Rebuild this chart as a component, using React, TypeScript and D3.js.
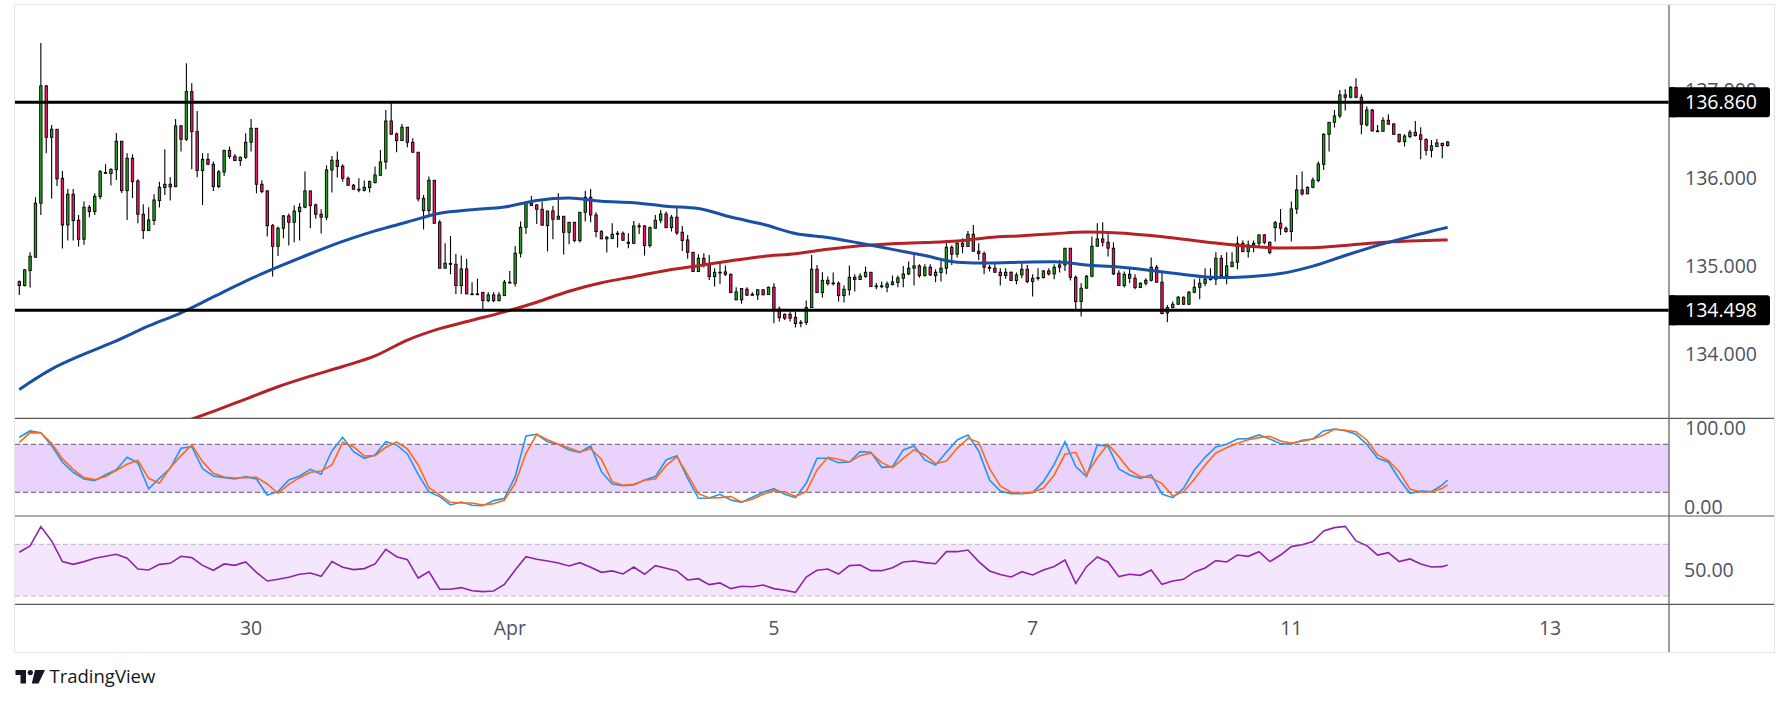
import * as d3 from 'd3';

// hourly candles, [open, high, low, close]
const ohlc: [number, number, number, number][] = [
  [134.824, 134.835, 134.673, 134.779], [134.779, 134.964, 134.767, 134.957], [134.949, 135.157, 134.756, 135.112],
  [135.101, 135.782, 135.097, 135.714], [135.714, 137.534, 135.581, 137.046], [137.046, 137.057, 136.281, 136.463],
  [136.463, 136.603, 135.767, 136.554], [136.554, 136.554, 135.910, 135.990], [135.997, 136.081, 135.199, 135.467],
  [135.467, 135.876, 135.290, 135.816], [135.816, 135.876, 135.290, 135.517], [135.521, 135.581, 135.222, 135.305],
  [135.305, 135.733, 135.241, 135.668], [135.668, 135.695, 135.555, 135.619], [135.619, 135.827, 135.581, 135.793],
  [135.790, 136.092, 135.759, 136.073], [136.062, 136.156, 136.050, 136.060], [136.050, 136.111, 135.914, 136.099],
  [136.095, 136.512, 135.978, 136.418], [136.418, 136.418, 135.831, 135.857], [135.857, 136.281, 135.524, 136.225],
  [136.225, 136.270, 135.774, 135.959], [135.967, 135.986, 135.486, 135.589], [135.589, 135.702, 135.309, 135.403],
  [135.403, 135.668, 135.399, 135.524], [135.517, 135.816, 135.467, 135.751], [135.744, 135.959, 135.664, 135.895],
  [135.891, 136.327, 135.808, 135.929], [135.929, 136.009, 135.744, 135.899], [135.903, 136.671, 135.895, 136.592],
  [136.592, 136.603, 136.300, 136.440], [136.440, 137.303, 136.421, 136.981], [136.981, 137.076, 136.100, 136.527],
  [136.527, 136.762, 136.009, 136.085], [136.085, 136.281, 135.695, 136.213], [136.213, 136.281, 136.149, 136.156],
  [136.156, 136.187, 135.854, 135.903], [135.903, 136.092, 135.884, 136.069], [136.069, 136.315, 136.024, 136.315],
  [136.315, 136.357, 136.217, 136.244], [136.247, 136.270, 136.195, 136.198], [136.198, 136.244, 136.138, 136.236],
  [136.236, 136.508, 136.217, 136.406], [136.406, 136.671, 136.300, 136.565], [136.565, 136.565, 135.827, 135.929],
  [135.929, 135.975, 135.827, 135.846], [135.854, 135.861, 135.335, 135.460], [135.460, 135.479, 134.881, 135.225],
  [135.225, 135.449, 135.116, 135.430], [135.430, 135.581, 135.316, 135.570], [135.570, 135.596, 135.233, 135.498],
  [135.498, 135.687, 135.271, 135.626], [135.619, 135.714, 135.290, 135.668], [135.668, 136.073, 135.657, 135.854],
  [135.854, 135.854, 135.430, 135.687], [135.695, 135.710, 135.539, 135.589], [135.589, 135.645, 135.369, 135.555],
  [135.555, 136.141, 135.521, 136.092], [136.092, 136.251, 135.835, 136.202], [136.202, 136.300, 136.005, 136.130],
  [136.134, 136.156, 135.959, 135.997], [135.997, 136.016, 135.914, 135.918], [135.918, 135.933, 135.873, 135.873],
  [135.873, 135.997, 135.838, 135.865], [135.861, 135.971, 135.846, 135.895], [135.891, 135.971, 135.835, 135.959],
  [135.948, 136.130, 135.937, 136.035], [136.031, 136.319, 136.031, 136.183], [136.183, 136.773, 136.100, 136.648],
  [136.648, 136.849, 136.497, 136.497], [136.501, 136.516, 136.293, 136.425], [136.425, 136.614, 136.425, 136.577],
  [136.577, 136.577, 136.349, 136.406], [136.406, 136.452, 136.293, 136.293], [136.293, 136.293, 135.733, 135.763],
  [135.630, 135.808, 135.415, 135.770], [135.630, 136.016, 135.581, 135.975], [135.975, 135.975, 135.486, 135.486],
  [135.498, 135.524, 134.976, 134.976], [134.976, 135.259, 134.976, 135.032], [135.025, 135.343, 134.907, 135.029],
  [135.021, 135.138, 134.684, 134.779], [134.779, 135.119, 134.684, 134.968], [134.968, 135.082, 134.684, 134.684],
  [134.684, 134.817, 134.673, 134.680], [134.680, 134.855, 134.673, 134.684], [134.703, 134.703, 134.514, 134.608],
  [134.608, 134.703, 134.589, 134.673], [134.673, 134.703, 134.589, 134.608], [134.608, 134.703, 134.597, 134.673],
  [134.665, 134.843, 134.665, 134.817], [134.809, 134.945, 134.801, 134.817], [134.805, 135.229, 134.767, 135.146],
  [135.146, 135.505, 135.097, 135.441], [135.441, 135.740, 135.365, 135.714], [135.714, 135.797, 135.683, 135.687],
  [135.695, 135.702, 135.479, 135.645], [135.645, 135.733, 135.464, 135.464], [135.460, 135.626, 135.165, 135.626],
  [135.626, 135.683, 135.305, 135.532], [135.532, 135.827, 135.532, 135.566], [135.566, 135.566, 135.131, 135.384],
  [135.384, 135.498, 135.248, 135.498], [135.498, 135.498, 135.271, 135.290], [135.290, 135.611, 135.267, 135.611],
  [135.611, 135.857, 135.505, 135.782], [135.782, 135.876, 135.498, 135.581], [135.581, 135.611, 135.328, 135.392],
  [135.392, 135.411, 135.309, 135.309], [135.309, 135.343, 135.153, 135.328], [135.312, 135.486, 135.309, 135.362],
  [135.362, 135.399, 135.210, 135.373], [135.373, 135.392, 135.290, 135.293], [135.271, 135.373, 135.203, 135.259],
  [135.259, 135.513, 135.252, 135.456], [135.456, 135.486, 135.365, 135.449], [135.456, 135.467, 135.119, 135.233],
  [135.233, 135.449, 135.210, 135.437], [135.430, 135.581, 135.430, 135.521], [135.521, 135.638, 135.486, 135.592],
  [135.592, 135.619, 135.430, 135.437], [135.437, 135.581, 135.392, 135.555], [135.555, 135.679, 135.354, 135.377],
  [135.384, 135.456, 135.172, 135.290], [135.297, 135.354, 135.082, 135.157], [135.157, 135.157, 134.938, 134.938],
  [134.938, 135.135, 134.938, 135.089], [135.089, 135.146, 134.983, 135.013], [135.021, 135.127, 134.843, 134.881],
  [134.881, 134.976, 134.767, 134.930], [134.930, 135.059, 134.798, 134.927], [134.934, 135.006, 134.888, 134.907],
  [134.907, 134.915, 134.699, 134.699], [134.616, 134.760, 134.616, 134.707], [134.616, 134.749, 134.571, 134.745],
  [134.737, 134.760, 134.665, 134.669], [134.669, 134.703, 134.665, 134.680], [134.673, 134.741, 134.616, 134.730],
  [134.730, 134.741, 134.673, 134.673], [134.677, 134.767, 134.673, 134.760], [134.760, 134.805, 134.351, 134.510],
  [134.514, 134.540, 134.370, 134.415], [134.453, 134.461, 134.389, 134.408], [134.453, 134.483, 134.370, 134.408],
  [134.419, 134.483, 134.302, 134.347], [134.351, 134.389, 134.306, 134.362], [134.359, 134.608, 134.332, 134.529],
  [134.529, 135.127, 134.529, 134.964], [134.964, 135.013, 134.699, 134.699], [134.699, 134.930, 134.642, 134.839],
  [134.839, 134.881, 134.779, 134.801], [134.801, 134.926, 134.779, 134.809], [134.805, 134.824, 134.597, 134.665],
  [134.665, 134.779, 134.586, 134.737], [134.730, 135.006, 134.665, 134.873], [134.873, 134.907, 134.711, 134.847],
  [134.847, 134.919, 134.843, 134.888], [134.881, 134.994, 134.869, 134.930], [134.930, 134.930, 134.767, 134.767],
  [134.767, 134.809, 134.737, 134.775], [134.775, 134.824, 134.749, 134.767], [134.760, 134.824, 134.703, 134.798],
  [134.790, 134.892, 134.779, 134.820], [134.813, 134.892, 134.760, 134.866], [134.862, 135.002, 134.760, 134.911],
  [134.911, 135.051, 134.900, 134.976], [134.976, 135.146, 134.779, 135.002], [135.002, 135.021, 134.869, 134.892],
  [134.892, 135.021, 134.881, 134.987], [134.987, 135.021, 134.888, 134.900], [134.892, 134.964, 134.817, 134.930],
  [134.926, 135.059, 134.824, 134.976], [134.976, 135.290, 134.907, 135.214], [135.214, 135.233, 135.013, 135.135],
  [135.135, 135.286, 135.097, 135.259], [135.259, 135.316, 135.146, 135.222], [135.222, 135.399, 135.222, 135.362],
  [135.362, 135.467, 135.169, 135.169], [135.169, 135.259, 135.070, 135.142], [135.142, 135.165, 134.907, 134.987],
  [134.987, 135.013, 134.938, 134.976], [134.976, 135.040, 134.926, 134.930], [134.930, 134.976, 134.779, 134.892],
  [134.892, 134.976, 134.855, 134.930], [134.930, 134.938, 134.836, 134.836], [134.836, 134.926, 134.794, 134.900],
  [134.900, 135.032, 134.862, 134.964], [134.964, 135.013, 134.805, 134.824], [134.824, 134.907, 134.654, 134.862],
  [134.862, 134.976, 134.836, 134.869], [134.869, 134.957, 134.862, 134.945], [134.945, 134.976, 134.892, 134.911],
  [134.911, 135.021, 134.851, 134.987], [134.987, 135.070, 134.926, 135.013], [135.013, 135.203, 134.945, 135.203],
  [135.203, 135.203, 134.836, 134.873], [134.873, 134.892, 134.514, 134.597], [134.597, 134.805, 134.427, 134.749],
  [134.749, 134.900, 134.749, 134.885], [134.885, 135.335, 134.873, 135.225], [135.225, 135.486, 135.225, 135.309],
  [135.309, 135.498, 135.222, 135.271], [135.271, 135.362, 135.108, 135.203], [135.203, 135.271, 134.900, 134.911],
  [134.919, 134.953, 134.779, 134.779], [134.779, 134.938, 134.756, 134.907], [134.907, 134.976, 134.805, 134.862],
  [134.862, 134.907, 134.737, 134.756], [134.756, 134.817, 134.756, 134.805], [134.805, 134.862, 134.779, 134.839],
  [134.839, 135.097, 134.824, 134.987], [134.987, 135.013, 134.817, 134.817], [134.817, 134.926, 134.453, 134.461],
  [134.468, 134.559, 134.362, 134.529], [134.529, 134.597, 134.521, 134.567], [134.567, 134.661, 134.559, 134.646],
  [134.646, 134.654, 134.559, 134.567], [134.567, 134.718, 134.559, 134.703], [134.703, 134.851, 134.692, 134.760],
  [134.760, 134.862, 134.624, 134.805], [134.805, 134.976, 134.775, 134.851], [134.851, 134.976, 134.836, 134.855],
  [134.851, 135.157, 134.786, 135.089], [135.089, 135.127, 134.873, 134.892], [134.892, 135.157, 134.794, 135.002],
  [134.994, 135.157, 134.987, 135.044], [135.044, 135.335, 134.964, 135.259], [135.259, 135.290, 135.157, 135.165],
  [135.165, 135.290, 135.097, 135.241], [135.241, 135.290, 135.157, 135.259], [135.259, 135.362, 135.214, 135.354],
  [135.354, 135.362, 135.248, 135.271], [135.271, 135.278, 135.135, 135.153], [135.437, 135.513, 135.278, 135.494],
  [135.486, 135.649, 135.354, 135.430], [135.430, 135.449, 135.380, 135.392], [135.392, 135.733, 135.278, 135.649],
  [135.649, 136.035, 135.592, 135.865], [135.865, 136.073, 135.801, 135.820], [135.820, 135.903, 135.820, 135.895],
  [135.895, 136.005, 135.884, 135.978], [135.971, 136.187, 135.952, 136.160], [136.156, 136.508, 136.092, 136.497],
  [136.497, 136.633, 136.300, 136.633], [136.633, 136.773, 136.573, 136.705], [136.705, 137.000, 136.679, 136.944],
  [136.944, 137.008, 136.766, 136.917], [136.917, 137.046, 136.906, 137.031], [137.031, 137.133, 136.906, 136.917],
  [136.917, 136.951, 136.497, 136.611], [136.603, 136.811, 136.584, 136.773], [136.773, 136.785, 136.527, 136.535],
  [136.535, 136.603, 136.527, 136.531], [136.531, 136.690, 136.527, 136.656], [136.656, 136.724, 136.611, 136.611],
  [136.614, 136.622, 136.490, 136.497], [136.497, 136.501, 136.402, 136.414], [136.414, 136.497, 136.357, 136.478],
  [136.471, 136.546, 136.452, 136.520], [136.520, 136.648, 136.471, 136.482], [136.490, 136.577, 136.213, 136.437],
  [136.437, 136.452, 136.255, 136.315], [136.315, 136.433, 136.232, 136.365], [136.357, 136.444, 136.353, 136.399],
  [136.395, 136.399, 136.225, 136.368], [136.368, 136.421, 136.357, 136.410],
];

// moving averages, read every 6th candle (last point = last candle)
const maStep = 6;
const blueMA = [
  133.6, 133.83, 134.0, 134.15, 134.32, 134.47, 134.65, 134.83, 134.99, 135.14, 135.28, 135.4, 135.5, 135.6, 135.64,
  135.67, 135.745, 135.772, 135.735, 135.72, 135.68, 135.655, 135.557, 135.475, 135.37, 135.325, 135.26, 135.19, 135.12,
  135.045, 135.035, 135.045, 135.05, 135.013, 134.99, 134.95, 134.905, 134.87, 134.88, 134.915, 135.0, 135.12, 135.235,
  135.335, 135.425, 135.44,
];
const redStart = 30; // enters the pane from below here
const redMA = [
  133.22, 133.35, 133.49, 133.63, 133.75, 133.86, 133.98, 134.16, 134.29, 134.385, 134.48, 134.59, 134.715, 134.81,
  134.88, 134.95, 135.005, 135.06, 135.11, 135.14, 135.19, 135.23, 135.255, 135.268, 135.285, 135.325, 135.345,
  135.368, 135.386, 135.377, 135.347, 135.305, 135.262, 135.226, 135.205, 135.208, 135.235, 135.265, 135.285, 135.296,
  135.297,
];

// oscillators, read every 2nd candle (last point = last candle)
const oscStep = 2;
const stochK = [
  88.75, 96.7, 94.6, 78.3, 57.5, 45, 36.7, 34.6, 42, 48.3, 63.75, 56.7, 24.2, 37.5, 50, 75, 77, 49.6, 40.4, 38.3, 36.7,
  39.6, 36.7, 16.7, 20.8, 35.4, 40.4, 48.75, 42.5, 71.7, 88.75, 70.8, 62.5, 66.7, 83.3, 79.2, 67.9, 42.5, 20.4, 14.6,
  4.2, 7.9, 3.75, 3.3,
  9.6, 12.5, 39.6, 90.4, 92.5, 83.3, 80, 72.9, 70, 77.9, 45.8, 30.4, 28.3, 29.2, 35.4, 39.6, 60.4, 65.8, 37.5, 12.5,
  12.9, 17.5, 10.4, 7.5, 13.75, 20, 24.6, 17.5, 13.3, 31.25, 62.5, 62.5, 57.1, 57.9, 70.8, 70, 51.25, 52.1, 72.9, 77.9,
  60.4, 54.2, 70, 85.4, 91.7,
  71.7, 35.4, 21.7, 18.3, 18.3, 19.6, 33.3, 55, 83.3, 52.1, 39.6, 79.2, 77.5, 49.2, 41.7, 37.5, 41.7, 17.9, 13.3, 25,
  47.9, 63.75, 76.7, 80, 86.7, 87.1, 91.7, 86.7, 80.8, 80.4, 85, 86.7, 96.7, 99.2, 97.1, 92.5, 80, 62.5, 57.9, 36.7,
  18.75, 21.7, 20.8, 29.2, 35.4,
];
const stochD = [
  82.5, 94.6, 94.2, 81.25, 61.7, 48.75, 38.3, 35.8, 39.6, 47.5, 55, 60, 37.5, 31.25, 50.8, 65.8, 79.2, 58.3, 43.75,
  39.2, 37.9, 38.3, 38.75, 30.4, 18.75, 30, 38.3, 45, 46.7, 54.2, 82.5, 77, 65.4, 65.8, 76.25, 82.9, 74.2, 54.2, 25.8,
  16.7, 7.5, 6.7, 6.7, 4.2,
  5.8, 10.4, 31.25, 68.75, 92.5, 85.8, 80, 75.4, 70.4, 74.6, 61.25, 33.3, 28.75, 30, 35, 36.7, 53.3, 64.6, 41.7, 18.3,
  12.9, 13.3, 14.6, 7.9, 11.25, 17.5, 22.1, 20.4, 15, 20.8, 47.9, 63.75, 61.25, 57.9, 65.8, 69.2, 57.1, 50.8, 62.5,
  73.3, 66.7, 55.8, 59.2, 75, 87.5,
  82.5, 50, 27.9, 20, 18.75, 20.4, 25, 41.7, 67.5, 70, 41.7, 63.3, 80, 64.6, 47.5, 39.6, 38.3, 30.8, 15.4, 20.8, 36.25,
  54.2, 69.2, 75.8, 81.25, 85.8, 88.3, 90, 84.2, 81.7, 83.75, 86.7, 91.7, 98.75, 97.5, 95.8, 85.4, 66.7, 60, 45.8,
  24.2, 20.4, 20.8, 25, 29.2,
];
const rsi = [
  63.8, 68.7, 83.7, 72.6, 56.6, 54.5, 56.6, 59.2, 60.7, 62.3, 59.2, 50.9, 50.1, 54.5, 55.3, 60.7, 59.7, 53.7, 49.9,
  54.8, 53.7, 56.3, 48.3, 41.6, 42.9, 44.5, 46.8, 47.8, 45.2, 56.6, 52.2, 50.4, 51.2, 54.8, 66.1, 60.4, 58.1, 43.9,
  48.9, 35.2, 35.2, 36.5, 34.1, 33.4,
  33.9, 39, 50.1, 60.4, 58.4, 57.1, 55.5, 53.2, 55.8, 52.2, 48.3, 49.4, 47.1, 52.4, 46.8, 53.5, 51.4, 49.4, 42.4, 43.4,
  38.8, 40.1, 35.7, 37.5, 37.2, 38.5, 35.7, 34.4, 32.8, 44.7, 49.9, 50.9, 47, 53.5, 54, 49.6, 49.6, 51.9, 56.3, 57.1,
  55.8, 55, 64.3, 64.3, 65.6,
  56.6, 49.4, 46.6, 44.7, 48.8, 46.3, 50.1, 52.9, 57.9, 39.8, 52.7, 60.2, 56.3, 45, 46.8, 46, 50.1, 39, 41.6, 42.9,
  48.6, 51.7, 57.4, 56.3, 61.7, 60.7, 64.3, 56.6, 61.7, 68.2, 69.7, 72.1, 80.3, 82.9, 83.9, 72.6, 69, 61.7, 63.5, 56.6,
  58.7, 54.8, 52.4, 52.7, 54,
];

const levels = [136.86, 134.498];
const priceTicks = [137, 136, 135, 134];
const timeTicks = [43, 91, 140, 188, 236, 284];
const timeLabels = ['30', 'Apr', '5', '7', '11', '13'];

const FONT = "'Open Sans', 'Noto Sans', sans-serif";
const AXIS_TEXT = '#4f5260';

export default function App() {
  const W = 1791;
  const H = 705;
  const left = 15;
  const axisX = 1669;
  const right = 1774;
  const top = 5;
  const mainBottom = 418.3;
  const stochBottom = 516;
  const rsiBottom = 604.3;
  const bottom = 652;

  const last = ohlc.length - 1;
  const x = d3.scaleLinear().domain([0, last]).range([19.3, 1447.65]);
  const y = d3.scaleLinear().domain([levels[1], levels[0]]).range([310.3, 102.3]);
  const yS = d3.scaleLinear().domain([20, 80]).range([492.3, 444.3]);
  const yR = d3.scaleLinear().domain([30, 70]).range([596, 544.3]);

  const pts = (vals: number[], step: number, start = 0) =>
    vals.map((v, k) => [Math.min(start + k * step, last), v] as [number, number]);

  const maLine = d3
    .line<[number, number]>()
    .x((d) => x(d[0]))
    .y((d) => y(d[1]))
    .curve(d3.curveMonotoneX);
  const stochLine = d3
    .line<[number, number]>()
    .x((d) => x(d[0]))
    .y((d) => yS(d[1]));
  const rsiLine = d3
    .line<[number, number]>()
    .x((d) => x(d[0]))
    .y((d) => yR(d[1]));

  const bodyW = 2.4;

  return (
    <svg
      width={W}
      height={H}
      style={{ position: 'absolute', left: 0, top: 0, background: '#fff' }}
      fontFamily={FONT}
    >
      <defs>
        <clipPath id="mainClip">
          <rect x={left} y={top} width={axisX - left} height={mainBottom - top} />
        </clipPath>
        <clipPath id="stochClip">
          <rect x={left} y={mainBottom} width={axisX - left} height={stochBottom - mainBottom} />
        </clipPath>
        <clipPath id="rsiClip">
          <rect x={left} y={stochBottom} width={axisX - left} height={rsiBottom - stochBottom} />
        </clipPath>
      </defs>
      <rect x={0} y={0} width={W} height={H} fill="#fff" />

      {/* oscillator bands */}
      <rect x={left} y={yS(80)} width={axisX - left} height={yS(20) - yS(80)} fill="#e9d2fc" />
      {[80, 20].map((v) => (
        <line key={v} x1={left} x2={axisX} y1={yS(v)} y2={yS(v)} stroke="#5f5a6e" strokeDasharray="5 3" />
      ))}
      <rect x={left} y={yR(70)} width={axisX - left} height={yR(30) - yR(70)} fill="#f3e6fd" />
      {[70, 30].map((v) => (
        <line key={v} x1={left} x2={axisX} y1={yR(v)} y2={yR(v)} stroke="#b9b6c2" strokeDasharray="5 3" />
      ))}

      {/* candles */}
      <g clipPath="url(#mainClip)">
        {ohlc.map(([o, h, l, c], i) => (
          <line key={'w' + i} x1={x(i)} x2={x(i)} y1={y(h)} y2={y(l)} stroke="#000" strokeWidth={1.1} />
        ))}
        {ohlc.map(([o, h, l, c], i) => {
          const y0 = y(Math.max(o, c));
          const hgt = Math.max(Math.abs(y(o) - y(c)), 0.8);
          return (
            <rect
              key={'b' + i}
              x={x(i) - bodyW / 2}
              y={y0}
              width={bodyW}
              height={hgt}
              fill={c >= o ? '#22a31f' : '#ec1a6c'}
              stroke="#000"
              strokeWidth={0.9}
            />
          );
        })}
        <path d={maLine(pts(redMA, maStep, redStart)) || ''} fill="none" stroke="#b52226" strokeWidth={3} />
        <path d={maLine(pts(blueMA, maStep)) || ''} fill="none" stroke="#1a4fa6" strokeWidth={3} />
        {levels.map((v) => (
          <line key={v} x1={left} x2={axisX} y1={y(v)} y2={y(v)} stroke="#000" strokeWidth={3} />
        ))}
      </g>

      {/* stochastic */}
      <g clipPath="url(#stochClip)">
        <path d={stochLine(pts(stochK, oscStep)) || ''} fill="none" stroke="#2196f3" strokeWidth={1.6} />
        <path d={stochLine(pts(stochD, oscStep)) || ''} fill="none" stroke="#ff6a13" strokeWidth={1.6} />
      </g>

      {/* rsi */}
      <g clipPath="url(#rsiClip)">
        <path d={rsiLine(pts(rsi, oscStep)) || ''} fill="none" stroke="#8e24aa" strokeWidth={1.6} />
      </g>

      {/* frame and separators */}
      <rect x={left - 0.5} y={top - 0.5} width={right - left + 1} height={bottom - top + 1} fill="none" stroke="#e3e5ec" />
      {[mainBottom, stochBottom, rsiBottom].map((v) => (
        <line key={v} x1={left} x2={right} y1={v} y2={v} stroke="#5a5a5a" strokeWidth={1.2} />
      ))}
      <line x1={axisX} x2={axisX} y1={top} y2={bottom} stroke="#5a5a5a" strokeWidth={1.2} />

      {/* price axis */}
      {priceTicks.map((v) => (
        <text key={v} x={1685} y={y(v)} dy="0.35em" fontSize={19.5} fill={AXIS_TEXT}>
          {v.toFixed(3)}
        </text>
      ))}
      {levels.map((v) => (
        <g key={'lbl' + v}>
          <rect x={axisX} y={y(v) - 15} width={101} height={30} rx={3} fill="#000" />
          <rect x={axisX} y={y(v) - 15} width={6} height={30} fill="#000" />
          <text x={1685} y={y(v)} dy="0.36em" fontSize={19.5} fill="#fff">
            {v.toFixed(3)}
          </text>
        </g>
      ))}
      <text x={1685} y={yS(100)} dy="0.35em" fontSize={19.5} fill={AXIS_TEXT}>
        100.00
      </text>
      <text x={1684} y={yS(0)} dy="0.3em" fontSize={19.5} fill={AXIS_TEXT}>
        0.00
      </text>
      <text x={1684} y={yR(50)} dy="0.35em" fontSize={19.5} fill={AXIS_TEXT}>
        50.00
      </text>

      {/* time axis */}
      {timeTicks.map((t, k) => (
        <text key={t} x={x(t)} y={628.5} dy="0.35em" textAnchor="middle" fontSize={19.5} fill={AXIS_TEXT}>
          {timeLabels[k]}
        </text>
      ))}

      {/* logo */}
      <g fill="#131722">
        <rect x={15.5} y={670} width={10.5} height={5} />
        <rect x={20.5} y={670} width={5.5} height={13.5} />
        <circle cx={30.3} cy={672.6} r={2.6} />
        <polygon points="35,670 45,670 38.5,683.5 31.8,683.5" />
        <text x={49.5} y={677} dy="0.35em" fontSize={18.5}>
          TradingView
        </text>
      </g>
    </svg>
  );
}
